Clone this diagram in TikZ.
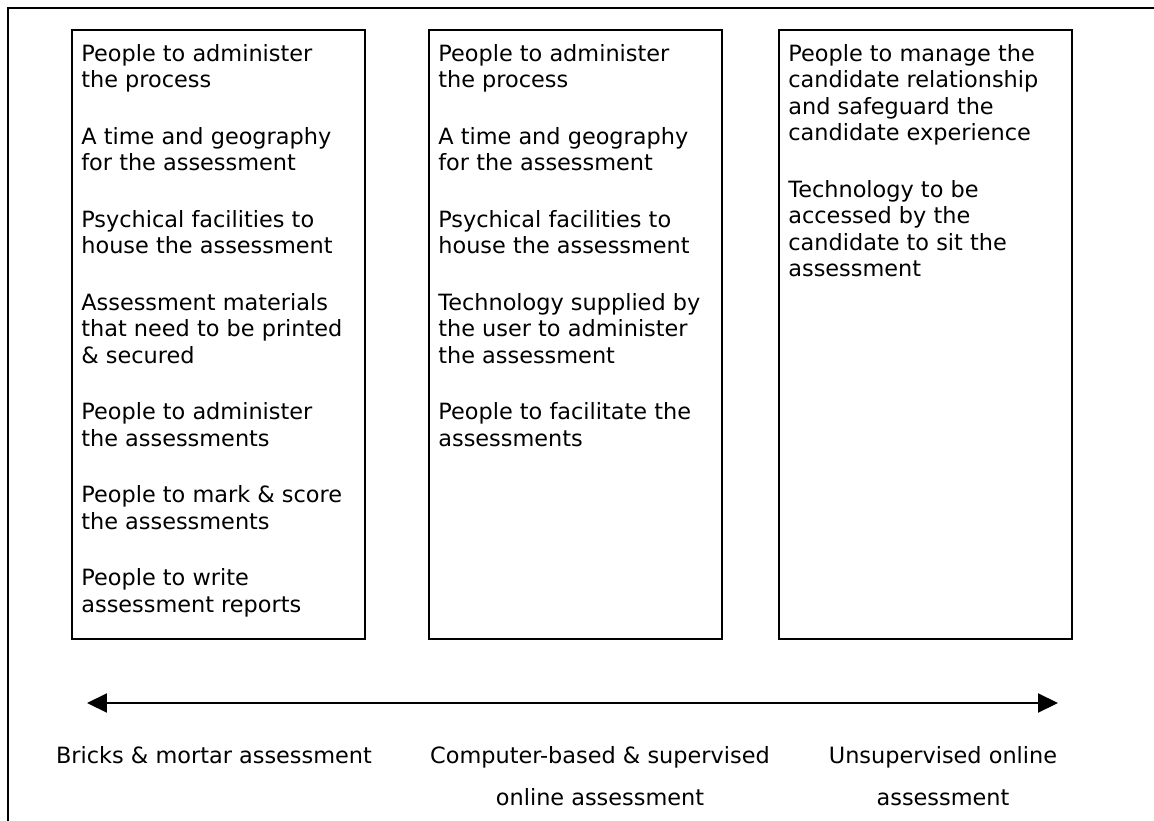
\documentclass[tikz,border=0pt]{standalone}
\usepackage{fontspec}
\setmainfont{DejaVu Sans}
\usetikzlibrary{arrows.meta}
\begin{document}
\begin{tikzpicture}[x=0.02cm, y=-0.02cm,
		column/.style={draw, line width=1pt},
		itemlist/.style={anchor=north west, align=left, inner sep=0pt, font={\fontsize{12.75}{15.1}\selectfont}},
		scalelabel/.style={anchor=north, align=center, inner sep=0pt, font={\fontsize{12.75}{23.9}\selectfont}},
		scaletip/.tip={Triangle[length=0.4cm, width=0.38cm]}]
		\useasboundingbox (0,0) rectangle (1154,821);
		\draw [line width=1.2pt] (8,821) -- (8,8) -- (1154,8);
		
		\draw [column] (72,30) rectangle (365,639);
		\draw [column] (429,30) rectangle (722,639);
		\draw [column] (779,30) rectangle (1072,639);
		
		\node [itemlist] (bricks) at (81,44) {People to administer\\the process\\[17pt]
			A time and geography\\for the assessment\\[17pt]
			Psychical facilities to\\house the assessment\\[17pt]
			Assessment materials\\that need to be printed\\\& secured\\[17pt]
			People to administer\\the assessments\\[17pt]
			People to mark \& score\\the assessments\\[17pt]
			People to write\\assessment reports};
		\node [itemlist] (supervised) at (438,44) {People to administer\\the process\\[17pt]
			A time and geography\\for the assessment\\[17pt]
			Psychical facilities to\\house the assessment\\[17pt]
			Technology supplied by\\the user to administer\\the assessment\\[17pt]
			People to facilitate the\\assessments};
		\node [itemlist] (unsupervised) at (788,44) {People to manage the\\candidate relationship\\and safeguard the\\candidate experience\\[17pt]
			Technology to be\\accessed by the\\candidate to sit the\\assessment};
		
		\coordinate (westend) at (87,703);
		\coordinate (eastend) at (1058,703);
		\draw [scaletip-scaletip, line width=1.2pt] (westend) -- (eastend);
		
		\node [scalelabel] (bricklabel) at (214,746) {Bricks \& mortar assessment};
		\node [scalelabel] (cbtlabel) at (600,746) {Computer-based \& supervised\\online assessment};
		\node [scalelabel] (onlinelabel) at (943,746) {Unsupervised online\\assessment};
	\end{tikzpicture}
\end{document}
